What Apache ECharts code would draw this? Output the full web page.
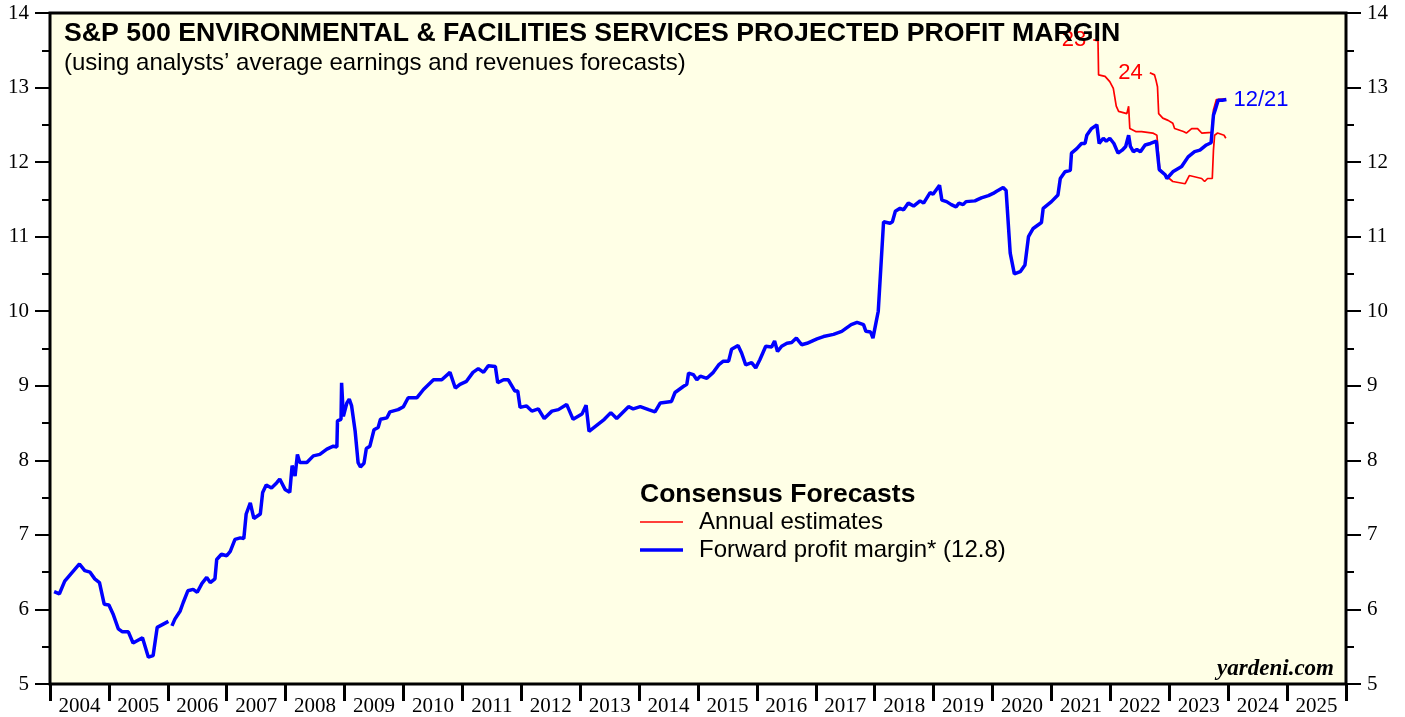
<!DOCTYPE html>
<html>
  <head>
    <meta charset="utf-8" />
    <title>S&amp;P 500 Environmental &amp; Facilities Services Projected Profit Margin</title>
    <style type="text/css">
      html, body { margin: 0; padding: 0; background: #fff; }
      #main { width: 1405px; height: 717px; }
    </style>
    <script type="text/javascript" src="https://cdn.jsdelivr.net/npm/echarts@6/dist/echarts.min.js"></script>
  </head>
  <body>
    <div id="main"></div>
    <script type="text/javascript">
    // forward profit margin (decimal years), null = gap in the data
    var fwdDates = [2004.07, 2004.16, 2004.25, 2004.50, 2004.59, 2004.68, 2004.76, 2004.84, 2004.92, 2005.00,
      2005.07, 2005.16, 2005.23, 2005.33, 2005.41, 2005.57, 2005.67, 2005.75, 2005.82, 2006.01,
      2006.04, 2006.07, 2006.12, 2006.21, 2006.26, 2006.34, 2006.43, 2006.50, 2006.58, 2006.66,
      2006.72, 2006.80, 2006.83, 2006.91, 2007.00, 2007.06, 2007.14, 2007.23, 2007.29, 2007.33,
      2007.40, 2007.46, 2007.57, 2007.61, 2007.67, 2007.76, 2007.85, 2007.90, 2007.99, 2008.07,
      2008.11, 2008.16, 2008.20, 2008.24, 2008.36, 2008.47, 2008.58, 2008.70, 2008.81, 2008.87,
      2008.88, 2008.94, 2008.95, 2008.98, 2009.04, 2009.08, 2009.12, 2009.18, 2009.21, 2009.23,
      2009.27, 2009.33, 2009.37, 2009.43, 2009.50, 2009.57, 2009.61, 2009.72, 2009.77, 2009.91,
      2010.00, 2010.08, 2010.23, 2010.34, 2010.51, 2010.65, 2010.79, 2010.88, 2010.96, 2011.07,
      2011.18, 2011.27, 2011.36, 2011.44, 2011.56, 2011.60, 2011.70, 2011.78, 2011.89, 2011.94,
      2011.98, 2012.09, 2012.18, 2012.29, 2012.39, 2012.52, 2012.63, 2012.77, 2012.88, 2013.03,
      2013.10, 2013.15, 2013.28, 2013.41, 2013.52, 2013.62, 2013.82, 2013.90, 2014.02, 2014.16,
      2014.27, 2014.36, 2014.55, 2014.61, 2014.75, 2014.81, 2014.84, 2014.92, 2014.98, 2015.04,
      2015.15, 2015.26, 2015.35, 2015.43, 2015.52, 2015.57, 2015.68, 2015.74, 2015.81, 2015.91,
      2015.98, 2016.05, 2016.15, 2016.25, 2016.30, 2016.35, 2016.42, 2016.51, 2016.59, 2016.67,
      2016.76, 2016.85, 2017.02, 2017.13, 2017.30, 2017.44, 2017.60, 2017.70, 2017.81, 2017.85,
      2017.93, 2017.97, 2018.02, 2018.06, 2018.08, 2018.15, 2018.26, 2018.30, 2018.35, 2018.43,
      2018.49, 2018.57, 2018.66, 2018.77, 2018.83, 2018.94, 2018.99, 2019.10, 2019.14, 2019.22,
      2019.30, 2019.38, 2019.43, 2019.50, 2019.55, 2019.70, 2019.81, 2019.93, 2020.01, 2020.07,
      2020.18, 2020.23, 2020.30, 2020.37, 2020.47, 2020.55, 2020.61, 2020.69, 2020.83, 2020.86,
      2021.00, 2021.11, 2021.15, 2021.23, 2021.32, 2021.34, 2021.43, 2021.51, 2021.57, 2021.60,
      2021.68, 2021.77, 2021.81, 2021.88, 2021.93, 2021.99, 2022.06, 2022.13, 2022.20, 2022.26,
      2022.31, 2022.34, 2022.39, 2022.45, 2022.51, 2022.59, 2022.68, 2022.78, 2022.83, 2022.93,
      2022.96, 2023.06, 2023.21, 2023.32, 2023.43, 2023.52, 2023.63, 2023.71, 2023.73, 2023.75,
      2023.78, 2023.83, 2023.90, 2023.97];
    var fwdValues = [6.24, 6.21, 6.38, 6.61, 6.52, 6.50, 6.41, 6.36, 6.07, 6.06,
      5.94, 5.74, 5.70, 5.70, 5.55, 5.62, 5.36, 5.38, 5.76, 5.84,
      null, 5.78, 5.87, 5.98, 6.09, 6.25, 6.27, 6.23, 6.35, 6.43,
      6.36, 6.41, 6.67, 6.74, 6.72, 6.78, 6.94, 6.96, 6.95, 7.28,
      7.43, 7.22, 7.28, 7.57, 7.67, 7.63, 7.70, 7.75, 7.61, 7.57,
      7.93, 7.79, 8.08, 7.97, 7.97, 8.06, 8.08, 8.15, 8.19, 8.18,
      8.53, 8.55, 9.04, 8.59, 8.77, 8.82, 8.73, 8.39, 8.37, 7.97,
      7.91, 7.96, 8.16, 8.19, 8.41, 8.44, 8.55, 8.57, 8.65, 8.68,
      8.72, 8.84, 8.84, 8.95, 9.08, 9.08, 9.18, 8.97, 9.02, 9.06,
      9.18, 9.23, 9.18, 9.27, 9.26, 9.04, 9.08, 9.08, 8.93, 8.93,
      8.71, 8.73, 8.66, 8.69, 8.56, 8.66, 8.68, 8.75, 8.55, 8.62,
      8.74, 8.39, 8.47, 8.55, 8.64, 8.56, 8.72, 8.69, 8.72, 8.68,
      8.65, 8.77, 8.79, 8.91, 8.99, 9.02, 9.17, 9.15, 9.08, 9.13,
      9.10, 9.18, 9.28, 9.33, 9.33, 9.49, 9.54, 9.44, 9.28, 9.31,
      9.24, 9.35, 9.53, 9.52, 9.60, 9.46, 9.53, 9.57, 9.58, 9.64,
      9.55, 9.57, 9.63, 9.66, 9.69, 9.73, 9.82, 9.85, 9.82, 9.73,
      9.72, 9.64, 9.84, 10.00, 10.02, 11.20, 11.18, 11.20, 11.34, 11.38,
      11.36, 11.45, 11.41, 11.48, 11.45, 11.59, 11.57, 11.69, 11.49, 11.47,
      11.43, 11.40, 11.45, 11.43, 11.47, 11.48, 11.52, 11.55, 11.58, 11.61,
      11.66, 11.62, 10.78, 10.50, 10.53, 10.62, 11.00, 11.11, 11.19, 11.38,
      11.47, 11.56, 11.78, 11.87, 11.89, 12.12, 12.18, 12.25, 12.25, 12.36,
      12.45, 12.50, 12.25, 12.32, 12.28, 12.32, 12.25, 12.12, 12.16, 12.21,
      12.36, 12.21, 12.14, 12.17, 12.14, 12.23, 12.25, 12.28, 11.90, 11.83,
      11.78, 11.87, 11.94, 12.07, 12.14, 12.16, 12.23, 12.26, 12.25, 12.63,
      12.70, 12.83, 12.83, 12.84];

    // annual estimate for 2023
    var est23Dates = [2021.71, 2021.79, 2021.80, 2021.91, 2021.99, 2022.05, 2022.10, 2022.14, 2022.28, 2022.31,
      2022.33, 2022.43, 2022.53, 2022.56, 2022.72, 2022.79, 2022.84, 2022.95, 2023.00, 2023.06,
      2023.27, 2023.34, 2023.55, 2023.60, 2023.65, 2023.73, 2023.75, 2023.77, 2023.82, 2023.93,
      2023.96];
    var est23Values = [13.64, 13.63, 13.17, 13.15, 13.08, 12.99, 12.75, 12.68, 12.65, 12.75,
      12.45, 12.41, 12.41, 12.43, 12.39, 12.36, 11.88, 11.82, 11.78, 11.74,
      11.71, 11.82, 11.78, 11.74, 11.78, 11.78, 12.16, 12.36, 12.39, 12.36,
      12.32];

    // annual estimate for 2024
    var est24Dates = [2022.67, 2022.75, 2022.78, 2022.80, 2022.82, 2022.89, 2022.98, 2023.06, 2023.09, 2023.24,
      2023.29, 2023.38, 2023.48, 2023.55, 2023.72, 2023.75, 2023.80, 2023.95];
    var est24Values = [13.20, 13.17, 13.08, 13.01, 12.65, 12.59, 12.56, 12.52, 12.45, 12.41,
      12.39, 12.45, 12.45, 12.39, 12.40, 12.70, 12.84, 12.85];

    var years = [2004, 2005, 2006, 2007, 2008, 2009, 2010, 2011, 2012, 2013, 2014,
      2015, 2016, 2017, 2018, 2019, 2020, 2021, 2022, 2023, 2024, 2025];

    var SANS = 'Liberation Sans, Arial, sans-serif';
    var SERIF = 'Liberation Serif, Times New Roman, serif';

    function pairs(xs, ys, firstLabel) {
      var out = [];
      for (var i = 0; i < xs.length; i++) {
        var item = [xs[i], ys[i] == null ? null : ys[i]];
        if (i === 0 && firstLabel) {
          item = {
            value: item,
            label: { show: true, position: 'left', distance: 7, formatter: firstLabel,
              color: '#ff0000', fontFamily: SANS, fontSize: 22 }
          };
        }
        out.push(item);
      }
      return out;
    }

    var dom = document.getElementById('main');
    var myChart = echarts.init(dom, null, { renderer: 'canvas' });

    var yAxisBase = {
      type: 'value', min: 5, max: 14, interval: 1,
      axisLine: { show: false },
      axisTick: { show: true, inside: false, length: 15, lineStyle: { color: '#000', width: 2 } },
      minorTick: { show: true, splitNumber: 2, length: 8, lineStyle: { color: '#000', width: 2 } },
      axisLabel: { color: '#000', fontFamily: SERIF, fontSize: 21, margin: 21 },
      splitLine: { show: false }
    };

    var option = {
      animation: false,
      backgroundColor: '#ffffff',
      title: [
        {
          text: 'S&P 500 ENVIRONMENTAL & FACILITIES SERVICES PROJECTED PROFIT MARGIN',
          left: 64, top: 20, padding: 0,
          textStyle: { fontFamily: SANS, fontWeight: 'bold', fontSize: 26.7, color: '#000' }
        },
        {
          text: '(using analysts\u2019 average earnings and revenues forecasts)',
          left: 64, top: 51, padding: 0,
          textStyle: { fontFamily: SANS, fontWeight: 'normal', fontSize: 24, color: '#000' }
        },
        {
          text: 'Consensus Forecasts',
          left: 640, top: 481, padding: 0,
          textStyle: { fontFamily: SANS, fontWeight: 'bold', fontSize: 26.5, color: '#000' }
        },
        {
          text: 'yardeni.com',
          right: 71, top: 658, padding: 0,
          textStyle: { fontFamily: SERIF, fontWeight: 'bold', fontStyle: 'italic', fontSize: 23, color: '#000' }
        }
      ],
      legend: {
        orient: 'vertical',
        left: 640, top: 510,
        padding: 0,
        itemWidth: 43, itemHeight: 14, itemGap: 4,
        symbolKeepAspect: true,
        data: [
          { name: 'Annual estimates', icon: 'path://M0,0 L43,0 L43,1.7 L0,1.7 Z' },
          { name: 'Forward profit margin* (12.8)', icon: 'path://M0,0 L43,0 L43,3.5 L0,3.5 Z' }
        ],
        textStyle: { fontFamily: SANS, fontSize: 24, color: '#000', padding: [0, 0, 0, 11] },
        selectedMode: false
      },
      grid: {
        left: 50, right: 59, top: 13, bottom: 32,
        show: true, backgroundColor: '#ffffe6', borderColor: '#000', borderWidth: 3,
        containLabel: false
      },
      xAxis: [
        {
          type: 'value', min: 2004, max: 2026, interval: 1,
          axisLine: { show: false },
          axisTick: { show: true, inside: false, length: 17, lineStyle: { color: '#000', width: 3 } },
          axisLabel: { show: false },
          splitLine: { show: false }
        },
        {
          type: 'value', min: 2004, max: 2026, interval: 0.5,
          position: 'bottom',
          axisLine: { show: false },
          axisTick: { show: false },
          splitLine: { show: false },
          axisLabel: {
            color: '#000', fontFamily: SERIF, fontSize: 21, margin: 12,
            showMinLabel: false, showMaxLabel: false,
            formatter: function (v) {
              var y = Math.floor(v);
              return (v - y === 0.5 && years.indexOf(y) >= 0) ? String(y) : '';
            }
          }
        }
      ],
      yAxis: [
        Object.assign({ position: 'left' }, yAxisBase),
        Object.assign({ position: 'right' }, yAxisBase)
      ],
      series: [
        {
          name: 'Annual estimates', type: 'line', xAxisIndex: 0, yAxisIndex: 0,
          symbol: 'circle', symbolSize: 0, showSymbol: true, showAllSymbol: true,
          lineStyle: { color: '#ff0000', width: 1.7 }, itemStyle: { color: '#ff0000' },
          data: pairs(est23Dates, est23Values, '23'), z: 3
        },
        {
          name: 'Annual estimates', type: 'line', xAxisIndex: 0, yAxisIndex: 0,
          symbol: 'circle', symbolSize: 0, showSymbol: true, showAllSymbol: true,
          lineStyle: { color: '#ff0000', width: 1.7 }, itemStyle: { color: '#ff0000' },
          data: pairs(est24Dates, est24Values, '24'), z: 3
        },
        {
          name: 'Forward profit margin* (12.8)', type: 'line', xAxisIndex: 0, yAxisIndex: 0,
          symbol: 'none', connectNulls: false,
          lineStyle: { color: '#0000ff', width: 3.5 }, itemStyle: { color: '#0000ff' },
          endLabel: { show: true, formatter: '12/21', distance: 7, color: '#0000ff', fontFamily: SANS, fontSize: 22 },
          data: pairs(fwdDates, fwdValues), z: 4
        }
      ]
    };

    if (option && typeof option === 'object') {
      myChart.setOption(option);
    }
    </script>
  </body>
</html>
